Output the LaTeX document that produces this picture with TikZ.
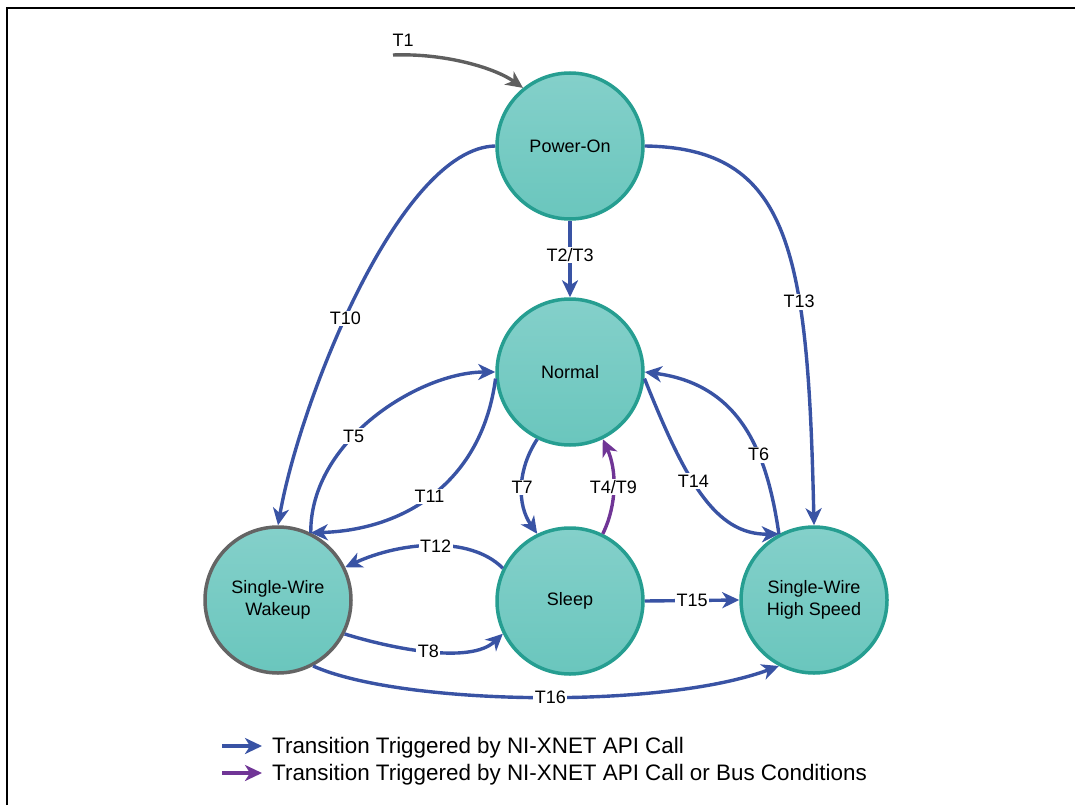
\documentclass[tikz,border=0pt]{standalone}
\usepackage{fontspec}
\setmainfont{Liberation Sans}
\usetikzlibrary{arrows.meta}
\definecolor{edgeblue}{RGB}{57,83,164}
\definecolor{edgepurple}{RGB}{112,53,150}
\definecolor{startgray}{RGB}{95,95,95}
\definecolor{ringteal}{RGB}{38,158,145}
\definecolor{filltop}{RGB}{132,208,202}
\definecolor{fillbot}{RGB}{106,198,189}
\definecolor{ringgray}{RGB}{100,100,100}
\begin{document}
\begin{tikzpicture}[x=1pt,y=-1pt,
  state/.style={circle, minimum size=146pt, inner sep=0pt, line width=3.5pt,
    draw=ringteal, top color=filltop, bottom color=fillbot,
    font=\fontsize{18}{22.5}\selectfont, align=center},
  trans/.style={draw=edgeblue, line width=3.4pt, -{Stealth[length=17pt,width=16pt,inset=5pt]}},
  bustrans/.style={trans, draw=edgepurple},
  starttrans/.style={trans, draw=startgray},
  lbl/.style={fill=white, inner sep=1.5pt, font=\fontsize{18}{20}\selectfont},
  legendtext/.style={anchor=west, inner sep=0pt, font=\fontsize{22.4}{26}\selectfont},
]
\useasboundingbox (0,0) rectangle (1075,805);
\draw[line width=2.6pt] (7,805) -- (7,8) -- (1075,8);

% states
\node[state] (P) at (570,146) {Power-On};
\node[state] (N) at (570,372) {Normal};
\node[state] (S) at (570,601) {Sleep};
\node[state, draw=ringgray] (W) at (278,600) {Single-Wire\\Wakeup};
\node[state] (H) at (814,600) {Single-Wire\\High Speed};

% initial transition
\coordinate (start) at (393,55);
\node[lbl, fill=none] (t1) at (403,40) {T1};
\draw[starttrans] (start) .. controls (445,53) and (495,68) .. (P.129);

% transitions
\draw[trans] (P.270) -- node[lbl, pos=0.45] {T2/T3} (N.90);
\draw[trans] (P.180) .. controls (400,148) and (300,400) .. node[lbl, pos=0.56] {T10} (W.90);
\draw[trans] (P.0) .. controls (790,148) and (808,250) .. node[lbl, pos=0.66] {T13} (H.90);
\draw[trans] (W.64) .. controls (310,440) and (420,372) .. node[lbl, pos=0.4] {T5} (N.180);
\draw[trans] (N.185) .. controls (482,482) and (405,530) .. node[lbl, pos=0.52] {T11} (W.64);
\draw[trans] (N.244) .. controls (517,470) and (517,505) .. node[lbl, pos=0.5] {T7} (S.116);
\draw[bustrans] (S.64) .. controls (617,505) and (617,470) .. node[lbl, pos=0.5] {T4/T9} (N.296);
\draw[trans] (H.118) .. controls (768,460) and (745,385) .. node[lbl, pos=0.37] {T6} (N.0);
\draw[trans] (N.355) .. controls (685,480) and (715,535) .. node[lbl, pos=0.42] {T14} (H.118);
\draw[trans] (S.154) .. controls (470,535) and (400,542) .. node[lbl, pos=0.48] {T12} (W.26);
\draw[trans] (W.333) .. controls (390,648) and (470,665) .. node[lbl, pos=0.5] {T8} (S.206);
\draw[trans] (S.0) -- node[lbl] {T15} (H.180);
\draw[trans] (W.298) .. controls (400,705) and (660,710) .. node[lbl, pos=0.53] {T16} (H.242);

% legend
\coordinate (la1) at (222,746);
\coordinate (lb1) at (262,746);
\coordinate (la2) at (222,773);
\coordinate (lb2) at (262,773);
\draw[trans, line width=3.8pt] (la1) -- (lb1);
\draw[bustrans, line width=3.8pt] (la2) -- (lb2);
\node[legendtext] (leg1) at (272,747.5) {Transition Triggered by NI-XNET API Call};
\node[legendtext] (leg2) at (272,774.5) {Transition Triggered by NI-XNET API Call or Bus Conditions};
\end{tikzpicture}
\end{document}
